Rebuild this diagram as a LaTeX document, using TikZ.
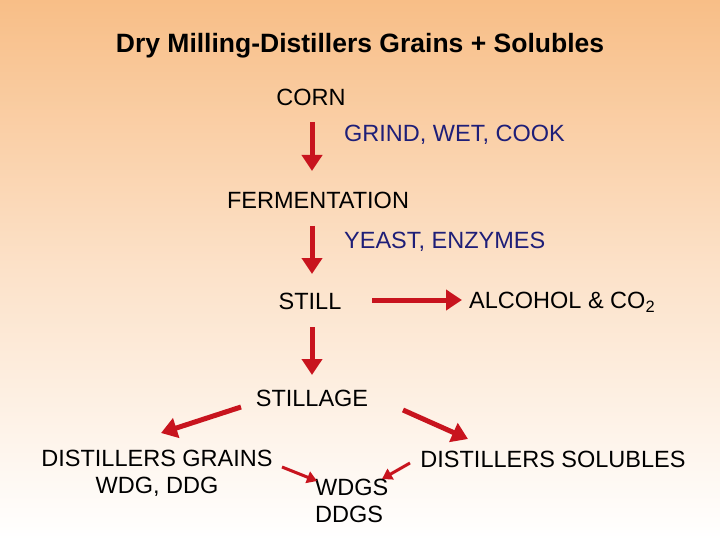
\documentclass[tikz,border=0pt]{standalone}
\usepackage{fontspec}
\setmainfont{Liberation Sans}
\usetikzlibrary{arrows.meta}
\definecolor{topc}{RGB}{248,190,135}
\definecolor{arr}{RGB}{200,20,30}
\definecolor{navy}{RGB}{30,30,120}
\begin{document}
\begin{tikzpicture}[x=1pt,y=-1pt,
  lbl/.style={font=\fontsize{23.5}{27}\selectfont, inner sep=0pt},
  side/.style={lbl, text=navy, anchor=west},
  big/.style={line width=5pt, draw=arr, -{Triangle[length=16pt,width=20pt]}},
  small/.style={line width=3pt, draw=arr, -{Triangle[length=10pt,width=12pt]}}]
\shade[top color=topc, bottom color=white, middle color=white!55!topc] (0,0) rectangle (720,540);
\useasboundingbox (0,0) rectangle (720,540);
\node[lbl, font=\bfseries\fontsize{26.5}{30}\selectfont] (title) at (360,46) {Dry Milling-Distillers Grains + Solubles};
\node[lbl] (corn) at (311,97) {CORN};
\node[side] (grind) at (344,135) {GRIND, WET, COOK};
\node[lbl] (ferm) at (318,200) {FERMENTATION};
\node[side] (yeast) at (344,242) {YEAST, ENZYMES};
\node[lbl] (still) at (310,301) {STILL};
\node[lbl, anchor=west] (alc) at (469,302) {ALCOHOL \& CO\textsubscript{2}};
\node[lbl] (stillage) at (312,398) {STILLAGE};
\node[lbl, align=center] (grains) at (157,473) {DISTILLERS GRAINS\\WDG, DDG};
\node[lbl] (sol) at (553,459) {DISTILLERS SOLUBLES};
\node[lbl, align=left, anchor=west] (wdgs) at (315,501) {WDGS\\DDGS};
\coordinate (a1s) at (312,122); \coordinate (a1e) at (312,171);
\coordinate (a2s) at (312,226); \coordinate (a2e) at (312,274);
\coordinate (a3s) at (312,327); \coordinate (a3e) at (312,375);
\coordinate (hs) at (372,300); \coordinate (he) at (462,300);
\coordinate (ls) at (241,407); \coordinate (le) at (161,433);
\coordinate (rs) at (403,410); \coordinate (re) at (468,439);
\coordinate (s1s) at (282,467); \coordinate (s1e) at (317,481);
\coordinate (s2s) at (410,463); \coordinate (s2e) at (382,479);
\draw[big] (a1s) -- (a1e);
\draw[big] (a2s) -- (a2e);
\draw[big] (a3s) -- (a3e);
\draw[big] (hs) -- (he);
\draw[big] (ls) -- (le);
\draw[big] (rs) -- (re);
\draw[small] (s1s) -- (s1e);
\draw[small] (s2s) -- (s2e);
\end{tikzpicture}
\end{document}
